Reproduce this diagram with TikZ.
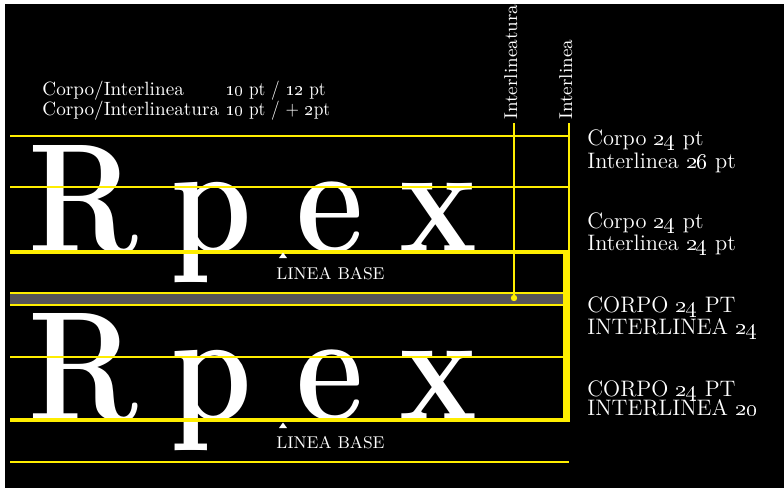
\documentclass[tikz,border=0pt]{standalone}
\definecolor{lineyellow}{RGB}{255,238,0}
\definecolor{bandgray}{RGB}{86,84,89}
\begin{document}
\begin{tikzpicture}[x=0.5pt,y=-0.5pt,
  thinrule/.style={draw=lineyellow, line width=0.75pt},
  thickrule/.style={draw=lineyellow, line width=1.8pt},
  glyph/.style={text=white, inner sep=0pt, anchor=base, xscale=0.84,
    font=\fontsize{78}{80}\selectfont\bfseries},
  smalltext/.style={text=white, inner sep=0pt, anchor=base west,
    font=\fontsize{9.6}{11}\selectfont},
  numtext/.style={smalltext, xscale=0.9},
  sidetext/.style={text=white, inner sep=0pt, anchor=base west,
    font=\fontsize{11.2}{13}\selectfont},
  basetext/.style={text=white, inner sep=0pt, anchor=base west,
    font=\fontsize{8.5}{10}\selectfont},
  vertext/.style={text=white, inner sep=0pt, anchor=base west, rotate=90,
    font=\fontsize{9.3}{11}\selectfont},
  marker/.style={fill=white}]
\useasboundingbox (0,0) rectangle (784,488);
\fill[white] (0,0) rectangle (784,488);
\fill[black] (5,4) rectangle (784,488);

% heading
\node[smalltext] (h1) at (42,95) {Corpo/Interlinea};
\node[numtext] (v1) at (225,95) {\oldstylenums{10} pt / \oldstylenums{12} pt};
\node[smalltext] (h2) at (42,115) {Corpo/Interlineatura};
\node[numtext] (v2) at (225,115) {\oldstylenums{10} pt / + \oldstylenums{2}pt};

% big letters, first block
\node[glyph] (r1) at (83.5,252) {R};
\node[glyph] (p1) at (211,252) {p};
\node[glyph] (e1) at (330,252) {e};
\node[glyph] (x1) at (438.5,252) {x};
% big letters, second block
\node[glyph] (r2) at (83.5,420) {R};
\node[glyph] (p2) at (211,420) {p};
\node[glyph] (e2) at (330,420) {e};
\node[glyph] (x2) at (438.5,420) {x};

% grey band between the blocks
\fill[bandgray] (10,293) rectangle (563,305);

% guide lines
\coordinate (ta) at (10,136);  \coordinate (tb) at (569,136);
\coordinate (ma) at (10,187);  \coordinate (mb) at (569,187);
\draw[thinrule] (ta) -- (tb);
\draw[thinrule] (ma) -- (mb);
\coordinate (ga) at (10,293);  \coordinate (gb) at (563,293);
\coordinate (gc) at (10,305);  \coordinate (gd) at (563,305);
\draw[thinrule] (ga) -- (gb);
\draw[thinrule] (gc) -- (gd);
\coordinate (na) at (10,357);  \coordinate (nb) at (563,357);
\draw[thinrule] (na) -- (nb);
\coordinate (ba) at (10,462);  \coordinate (bb) at (569,462);
\draw[thinrule] (ba) -- (bb);

% baselines and the frame round the second block
\coordinate (b1a) at (10,252);  \coordinate (b1b) at (570,252);
\coordinate (b2a) at (10,420);  \coordinate (b2b) at (570,420);
\draw[thickrule] (b1a) -- (b1b);
\draw[draw=lineyellow, line width=2pt] (b2a) -- (b2b);
\coordinate (fa) at (566.5,251);  \coordinate (fb) at (566.5,422);
\draw[draw=lineyellow, line width=3.4pt] (fa) -- (fb);

% vertical measures
\coordinate (ia) at (514,123);  \coordinate (ib) at (514,298);
\draw[thinrule] (ia) -- (ib);
\fill[lineyellow] (ib) circle[radius=1.6pt];
\coordinate (la) at (569,123);  \coordinate (lb) at (569,252);
\draw[thinrule] (la) -- (lb);
\node[vertext] (vi1) at (517,120) {Interlineatura};
\node[vertext] (vi2) at (572,120) {Interlinea};

% baseline markers
\fill[marker] (283,252.5) -- (287,258) -- (279,258) -- cycle;
\node[basetext] (lb1) at (276,279) {LINEA BASE};
\fill[marker] (283,422.5) -- (287,428) -- (279,428) -- cycle;
\node[basetext] (lb2) at (276,448) {LINEA BASE};

% side labels
\node[sidetext] (s1) at (587,145) {Corpo \oldstylenums{24} pt};
\node[sidetext] (s2) at (587,168) {Interlinea \oldstylenums{26} pt};
\node[sidetext] (s3) at (587,228) {Corpo \oldstylenums{24} pt};
\node[sidetext] (s4) at (587,250) {Interlinea \oldstylenums{24} pt};
\node[sidetext] (s5) at (587,312) {CORPO \oldstylenums{24} PT};
\node[sidetext] (s6) at (587,334) {INTERLINEA \oldstylenums{24}};
\node[sidetext] (s7) at (587,396) {CORPO \oldstylenums{24} PT};
\node[sidetext] (s8) at (587,415) {INTERLINEA \oldstylenums{20}};
\end{tikzpicture}
\end{document}
